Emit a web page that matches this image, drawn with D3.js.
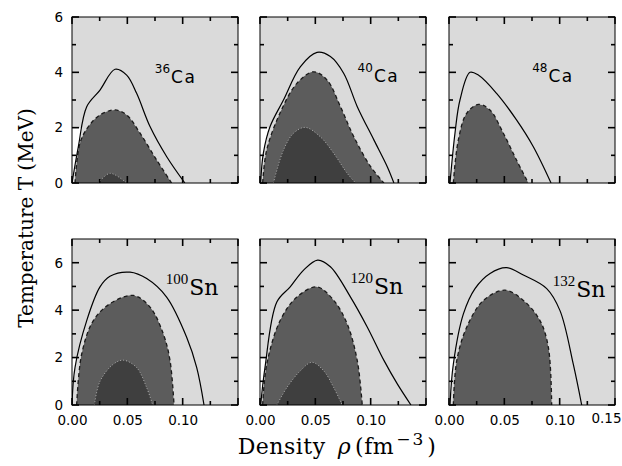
<!DOCTYPE html>
<html>
<head>
<meta charset="utf-8">
<script src="https://cdn.jsdelivr.net/npm/d3@7"></script>
<style>
  body { margin: 0; background: #fff; }
  svg { display: block; }
  .tick text { font-family: "DejaVu Sans", sans-serif; font-size: 13.5px; fill: #000; }
</style>
</head>
<body>
<div id="chart"></div>
<script>
// isotopes shown in the six panels
const massNumbers = ["36", "40", "48", "100", "120", "132"];
const elements = ["Ca", "Ca", "Ca", "Sn", "Sn", "Sn"];

// axis ticks
const rhoMajor = [0, 0.05, 0.10, 0.15];
const rhoMinor = [0.025, 0.075, 0.125];
const tMajor = [0, 2, 4, 6];
const tMinor = [1, 3, 5];
const tMaxTop = 6;
const tMaxBottom = 7;

// [density, temperature] along each boundary
const ca36Solid = [[0, 0], [0.0057, 1.31], [0.0133, 2.76], [0.0253, 3.36], [0.0389, 4.11], [0.0494, 3.9], [0.0584, 3.24], [0.0705, 2.04], [0.0856, 0.95], [0.102, 0]];
const ca36Dashed = [[0.0027, 0], [0.0072, 1.44], [0.0148, 2.04], [0.0253, 2.46], [0.039, 2.64], [0.0494, 2.46], [0.0615, 1.8], [0.0765, 0.83], [0.090, 0]];
const ca36Dotted = [[0.0238, 0], [0.0343, 0.35], [0.0494, 0]];

const ca40Solid = [[0.0006, 0], [0.003, 1.07], [0.0091, 2.04], [0.0212, 3.0], [0.0364, 4.2], [0.0515, 4.72], [0.0636, 4.57], [0.0757, 3.96], [0.0879, 2.76], [0.103, 1.55], [0.115, 0.59], [0.121, 0]];
const ca40Dashed = [[0.0024, 0], [0.006, 1.19], [0.018, 2.52], [0.0333, 3.6], [0.0485, 4.02], [0.0606, 3.72], [0.0727, 2.76], [0.0848, 1.67], [0.100, 0.59], [0.112, 0]];
const ca40Dotted = [[0.0121, 0], [0.0212, 1.19], [0.0303, 1.8], [0.0409, 2.01], [0.0545, 1.67], [0.0667, 1.07], [0.0788, 0.35], [0.0864, 0]];

const ca48Solid = [[0.0009, 0], [0.0054, 1.8], [0.0099, 3.0], [0.019, 4.0], [0.0265, 3.9], [0.043, 3.24], [0.061, 2.28], [0.0762, 1.31], [0.0922, 0]];
const ca48Dashed = [[0.0039, 0], [0.0084, 1.55], [0.016, 2.52], [0.0265, 2.84], [0.037, 2.64], [0.0491, 1.8], [0.061, 0.83], [0.0717, 0]];
const ca48Dotted = [];

const sn100Solid = [[0, 0], [0.0027, 1.58], [0.0133, 3.56], [0.0253, 4.98], [0.0343, 5.43], [0.0524, 5.6], [0.0675, 5.33], [0.0855, 4.55], [0.1036, 2.86], [0.1127, 1.58], [0.1193, 0]];
const sn100Dashed = [[0.0042, 0], [0.0087, 2.14], [0.0193, 3.56], [0.0343, 4.27], [0.0554, 4.62], [0.0705, 4.13], [0.0825, 3.0], [0.0886, 1.87], [0.0922, 0]];
const sn100Dotted = [[0.0202, 0], [0.0253, 1.0], [0.0373, 1.72], [0.0464, 1.89], [0.0584, 1.58], [0.0675, 0.73], [0.0729, 0]];

const sn120Solid = [[0.0006, 0], [0.0045, 1.58], [0.0152, 4.34], [0.0273, 4.98], [0.0394, 5.69], [0.0521, 6.11], [0.0636, 5.83], [0.0818, 4.55], [0.097, 3.28], [0.1121, 1.87], [0.1242, 0.88], [0.1364, 0]];
const sn120Dashed = [[0.0024, 0], [0.0061, 1.72], [0.0182, 3.56], [0.0333, 4.55], [0.0515, 4.98], [0.0667, 4.41], [0.0788, 3.42], [0.0879, 1.87], [0.0924, 0]];
const sn120Dotted = [[0.0152, 0], [0.0242, 0.73], [0.0364, 1.44], [0.047, 1.8], [0.0576, 1.44], [0.0667, 0.73], [0.0742, 0]];

const sn132Solid = [[0.0009, 0], [0.0039, 1.72], [0.013, 3.84], [0.0235, 4.91], [0.0371, 5.55], [0.0521, 5.79], [0.0672, 5.48], [0.0883, 4.91], [0.1003, 3.98], [0.1123, 1.72], [0.1199, 0]];
const sn132Dashed = [[0.0039, 0], [0.007, 1.87], [0.016, 3.28], [0.0311, 4.41], [0.0506, 4.84], [0.0672, 4.41], [0.0822, 3.56], [0.0898, 2.43], [0.0928, 0]];
const sn132Dotted = [];

const panels = [
    { solid: ca36Solid, dashed: ca36Dashed, dotted: ca36Dotted, labelAt: [0.0886, 3.61] },
    { solid: ca40Solid, dashed: ca40Dashed, dotted: ca40Dotted, labelAt: [0.1020, 3.65] },
    { solid: ca48Solid, dashed: ca48Dashed, dotted: ca48Dotted, labelAt: [0.0890, 3.65] },
    { solid: sn100Solid, dashed: sn100Dashed, dotted: sn100Dotted, labelAt: [0.1050, 4.65] },
    { solid: sn120Solid, dashed: sn120Dashed, dotted: sn120Dotted, labelAt: [0.1020, 4.70] },
    { solid: sn132Solid, dashed: sn132Dashed, dotted: sn132Dotted, labelAt: [0.1140, 4.55] }
];

const width = 622;
const height = 466;
const colLeft = [72, 260, 449];
const panelW = 166;
const rowTop = [17, 239];
const panelH = 166;

const svg = d3.select("#chart")
    .append("svg")
    .attr("width", width)
    .attr("height", height)
    .style("background", "#fff");

const defs = svg.append("defs");

// ticks drawn from the scales so they point into the frame
function tickMarks(g, values, scale, side, len) {
    g.selectAll(null)
        .data(values)
        .join("line")
        .attr("x1", d => side === "left" ? 0 : side === "right" ? panelW : scale(d))
        .attr("x2", d => side === "left" ? len : side === "right" ? panelW - len : scale(d))
        .attr("y1", d => side === "top" ? 0 : side === "bottom" ? panelH : scale(d))
        .attr("y2", d => side === "top" ? len : side === "bottom" ? panelH - len : scale(d))
        .attr("stroke", "#000")
        .attr("stroke-width", 1.6);
}

panels.forEach((p, i) => {
    const col = i % 3;
    const row = Math.floor(i / 3);
    const x0 = colLeft[col];
    const y0 = rowTop[row];
    const tMax = row === 0 ? tMaxTop : tMaxBottom;

    const x = d3.scaleLinear().domain([0, 0.15]).range([0, panelW]);
    const y = d3.scaleLinear().domain([0, tMax]).range([panelH, 0]);

    const g = svg.append("g").attr("transform", `translate(${x0},${y0})`);

    defs.append("clipPath").attr("id", "clip" + i)
        .append("rect").attr("width", panelW).attr("height", panelH);

    const plot = g.append("g").attr("clip-path", `url(#clip${i})`);

    // light grey background
    plot.append("rect")
        .attr("width", panelW).attr("height", panelH)
        .attr("fill", "#dadada");

    // white sliver left of the solid curve below T = 2
    const rising = [];
    for (let k = 0; k < p.solid.length; k++) {
        const pt = p.solid[k];
        if (pt[1] <= 2) { rising.push(pt); continue; }
        const prev = p.solid[k - 1];
        const f = (2 - prev[1]) / (pt[1] - prev[1]);
        rising.push([prev[0] + f * (pt[0] - prev[0]), 2]);
        break;
    }
    const whitePts = [[0, 0], ...rising, [0, 2]];
    plot.append("path")
        .attr("d", d3.line().x(d => x(d[0])).y(d => y(d[1]))(whitePts) + "Z")
        .attr("fill", "#fff");

    const curve = d3.line()
        .x(d => x(d[0]))
        .y(d => y(d[1]))
        .curve(d3.curveCatmullRom.alpha(0.5));

    // medium grey region with dashed edge
    plot.append("path")
        .attr("d", curve(p.dashed) + "Z")
        .attr("fill", "#5c5c5c");

    if (p.dotted.length) {
        plot.append("path")
            .attr("d", curve(p.dotted) + "Z")
            .attr("fill", "#3f3f3f");
    }

    plot.append("path")
        .attr("d", curve(p.dashed))
        .attr("fill", "none")
        .attr("stroke", "#1a1a1a")
        .attr("stroke-width", 1.3)
        .attr("stroke-dasharray", "4,3");

    if (p.dotted.length) {
        plot.append("path")
            .attr("d", curve(p.dotted))
            .attr("fill", "none")
            .attr("stroke", "#b0b0b0")
            .attr("stroke-width", 1)
            .attr("stroke-dasharray", "1,2");
    }

    plot.append("path")
        .attr("d", curve(p.solid))
        .attr("fill", "none")
        .attr("stroke", "#000")
        .attr("stroke-width", 1.2);

    // inward ticks on all four sides
    const ticks = g.append("g").attr("class", "ticks");
    tickMarks(ticks, rhoMajor, x, "bottom", 7);
    tickMarks(ticks, rhoMinor, x, "bottom", 4);
    tickMarks(ticks, rhoMajor, x, "top", 7);
    tickMarks(ticks, rhoMinor, x, "top", 4);
    tickMarks(ticks, tMajor, y, "left", 7);
    tickMarks(ticks, tMinor, y, "left", 4);
    tickMarks(ticks, tMajor, y, "right", 7);
    tickMarks(ticks, tMinor, y, "right", 4);

    // tick labels via the library axes
    if (row === 1) {
        const xLabels = col < 2 ? rhoMajor.filter(d => d < 0.11) : rhoMajor;
        const bottomAxis = g.append("g")
            .attr("transform", `translate(0,${panelH})`)
            .call(d3.axisBottom(x).tickValues(xLabels).tickSize(0).tickPadding(10)
                .tickFormat(d3.format(".2f")));
        bottomAxis.selectAll(".tick")
            .filter(d => d > 0.11)
            .select("text")
            .attr("text-anchor", "end")
            .attr("dx", "6")
            .attr("dy", "0.6em");
        bottomAxis.select(".domain").remove();
    }
    if (col === 0) {
        g.append("g")
            .call(d3.axisLeft(y).tickValues(tMajor).tickSize(0).tickPadding(9).tickFormat(d => d))
            .select(".domain").remove();
    }

    g.append("rect")
        .attr("width", panelW).attr("height", panelH)
        .attr("fill", "none")
        .attr("stroke", "#000")
        .attr("stroke-width", 1);

    // isotope label
    const lx = x(p.labelAt[0]);
    const ly = y(p.labelAt[1]);
    const isSn = elements[i] === "Sn";
    g.append("text")
        .attr("x", lx).attr("y", ly - (isSn ? 11 : 10))
        .attr("text-anchor", "end")
        .style("font-family", isSn ? "'Liberation Serif', serif" : "'DejaVu Sans', sans-serif")
        .style("font-size", isSn ? "15px" : "12px")
        .text(massNumbers[i]);
    g.append("text")
        .attr("x", lx + 1).attr("y", ly)
        .style("font-family", isSn ? "'DejaVu Serif', serif" : "'DejaVu Sans', sans-serif")
        .style("font-size", isSn ? "22px" : "17px")
        .style("letter-spacing", isSn ? "0px" : "1.5px")
        .text(elements[i]);
});

// axis titles
const xTitle = svg.append("text")
    .attr("x", 337).attr("y", 454)
    .attr("text-anchor", "middle")
    .style("font-family", "'DejaVu Serif', serif")
    .style("font-size", "22px")
    .style("letter-spacing", "0.5px");
xTitle.append("tspan").text("Density");
xTitle.append("tspan").attr("dx", 12).style("font-style", "italic").text("ρ");
xTitle.append("tspan").attr("dx", 4).text("(fm");
xTitle.append("tspan").attr("dx", 2).attr("dy", -9).style("font-size", "17px").style("letter-spacing", "2px").text("−3");
xTitle.append("tspan").attr("dx", 2).attr("dy", 9).text(")");

svg.append("text")
    .attr("transform", "translate(33,218) rotate(-90)")
    .attr("text-anchor", "middle")
    .style("font-family", "'DejaVu Serif', serif")
    .style("font-size", "20px")
    .text("Temperature T (MeV)");
</script>
</body>
</html>
